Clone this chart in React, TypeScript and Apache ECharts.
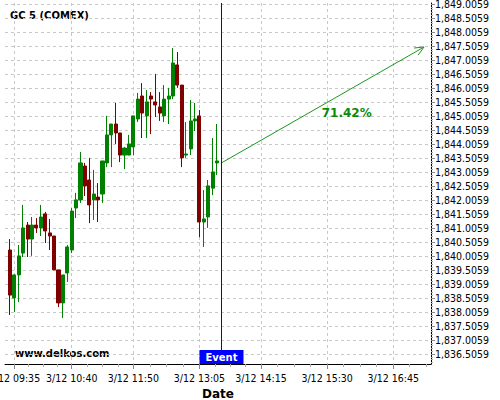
import React, { useEffect, useRef } from "react";
import * as echarts from "echarts";

// ---- data ----
const candleTimes = [
  "09:30", "09:35", "09:40", "09:45", "09:50", "09:55",
  "10:00", "10:05", "10:10", "10:15", "10:20", "10:25", "10:30", "10:35", "10:40", "10:45", "10:50", "10:55",
  "11:00", "11:05", "11:10", "11:15", "11:20", "11:25", "11:30", "11:35", "11:40", "11:45", "11:50", "11:55",
  "12:00", "12:05", "12:10", "12:15", "12:20", "12:25", "12:30", "12:35", "12:40", "12:45", "12:50", "12:55",
  "13:00", "13:05", "13:10", "13:15", "13:20", "13:25",
];
const opens = [
  1840.22, 1838.51, 1839.33, 1840.11, 1841.11, 1840.61, 1841.11, 1841.01, 1841.51, 1840.83, 1840.72, 1839.51,
  1838.33, 1839.40, 1840.22, 1841.72, 1842.01, 1843.22, 1842.72, 1842.01, 1842.11, 1842.22, 1843.33, 1844.33,
  1844.72, 1844.40, 1843.61, 1843.61, 1843.90, 1844.90, 1845.72, 1845.01, 1845.72, 1845.51, 1845.33, 1845.01,
  1845.61, 1845.72, 1846.83, 1846.11, 1843.61, 1843.83, 1844.83, 1845.01, 1841.22, 1841.40, 1842.43, 1843.33,
];
const closes = [
  1838.61, 1839.33, 1840.01, 1841.01, 1840.61, 1841.11, 1841.01, 1841.40, 1840.90, 1840.72, 1839.51, 1838.33,
  1839.33, 1840.33, 1841.61, 1842.01, 1843.33, 1842.51, 1841.83, 1842.22, 1842.01, 1843.40, 1844.33, 1844.72,
  1844.40, 1843.61, 1843.86, 1844.01, 1845.01, 1845.61, 1845.11, 1845.51, 1845.61, 1845.40, 1845.11, 1845.61,
  1845.72, 1846.90, 1846.11, 1843.51, 1843.65, 1844.83, 1844.90, 1841.22, 1841.33, 1842.51, 1843.01, 1843.40,
];
const lows = [
  1837.90, 1838.01, 1838.36, 1839.97, 1839.97, 1840.01, 1840.83, 1840.72, 1840.47, 1840.22, 1839.51, 1838.18,
  1837.79, 1839.08, 1840.11, 1841.36, 1841.90, 1842.15, 1841.18, 1841.29, 1841.22, 1841.90, 1843.18, 1843.18,
  1844.01, 1843.36, 1843.11, 1843.61, 1843.61, 1844.79, 1844.22, 1844.22, 1844.36, 1844.97, 1844.83, 1844.79,
  1844.72, 1845.61, 1846.01, 1843.18, 1843.51, 1843.61, 1844.47, 1840.68, 1840.33, 1841.01, 1842.18, 1842.90,
];
const highs = [
  1840.61, 1839.35, 1840.40, 1841.83, 1841.22, 1841.40, 1841.36, 1841.83, 1841.58, 1841.33, 1840.72, 1839.51,
  1839.33, 1840.40, 1841.72, 1842.26, 1843.72, 1843.33, 1843.51, 1843.08, 1842.61, 1843.40, 1845.01, 1844.72,
  1845.47, 1844.40, 1843.90, 1844.33, 1845.01, 1845.83, 1846.18, 1845.93, 1845.86, 1846.51, 1845.86, 1846.11,
  1846.01, 1847.43, 1847.29, 1846.11, 1844.79, 1845.58, 1845.47, 1845.22, 1842.36, 1842.72, 1844.22, 1844.72,
];
const xTickTimes = ["09:35", "10:40", "11:50", "13:05", "14:15", "15:30", "16:45"];
const yTickValues = [
  1836.5059, 1837.0059, 1837.5059, 1838.0059, 1838.5059, 1839.0059, 1839.5059, 1840.0059, 1840.5059,
  1841.0059, 1841.5059, 1842.0059, 1842.5059, 1843.0059, 1843.5059, 1844.0059, 1844.5059, 1845.0059,
  1845.5059, 1846.0059, 1846.5059, 1847.0059, 1847.5059, 1848.0059, 1848.5059, 1849.0059,
];
const datePrefix = "3/12";
const titleText = "GC 5 (COMEX)";
const siteText = "www.delkos.com";
const eventTime = "13:30";
const eventText = "Event";
const forecastStart = { time: "13:30", price: 1843.33 };
const forecastEnd = { time: "17:20", price: 1847.47 };
const forecastLabel = "71.42%";
const xMinTime = "09:24.3";
const xMaxTime = "17:27.9";
const yMin = 1836.1488;
const yMax = 1849.0417;

// ---- helpers ----
const toMin = (t: string) => {
  const [h, m] = t.split(":");
  return parseInt(h, 10) * 60 + parseFloat(m);
};
const pad = (n: number) => (n < 10 ? "0" + n : "" + n);
const fmtTime = (v: number) => {
  const r = Math.round(v);
  return `${datePrefix} ${pad(Math.floor(r / 60))}:${pad(r % 60)}`;
};
const fmtPrice = (v: number) => {
  const s = v.toFixed(4);
  const [a, b] = s.split(".");
  return a.replace(/\B(?=(\d{3})+(?!\d))/g, ",") + "." + b;
};

const xMajor = xTickTimes.map(toMin);
const xMinor: number[] = [];
for (let i = 0; i < xMajor.length - 1; i++) {
  const step = (xMajor[i + 1] - xMajor[i]) / 4;
  for (let k = 1; k < 4; k++) xMinor.push(xMajor[i] + step * k);
}
{
  const first = xMajor[0];
  const step0 = (xMajor[1] - xMajor[0]) / 4;
  for (let k = 1; k < 4; k++) {
    const v = first - step0 * k;
    if (v > toMin(xMinTime)) xMinor.push(v);
  }
  const last = xMajor[xMajor.length - 1];
  const step = 75 / 4;
  for (let k = 1; k < 4; k++) {
    const v = last + step * k;
    if (v < toMin(xMaxTime)) xMinor.push(v);
  }
}
const yMinor: number[] = [];
for (let i = 0; i < yTickValues.length; i++) {
  for (let k = -4; k <= 4; k++) {
    if (k === 0) continue;
    const v = Math.round((yTickValues[i] + k * 0.1) * 10000) / 10000;
    if (k < 0 && i > 0) continue;
    if (v > yMin && v < yMax) yMinor.push(v);
  }
}

const AXIS_FONT = "DejaVu Sans Condensed, DejaVu Sans";
const GREEN = "#008000";
const RED = "#800000";

export default function App() {
  const ref = useRef<HTMLDivElement>(null);
  useEffect(() => {
    if (!ref.current) return;
    const chart = echarts.init(ref.current, null, { renderer: "svg" });
    const candleData = candleTimes.map((t, i) => [toMin(t), opens[i], closes[i], lows[i], highs[i]]);
    const option: any = {
      animation: false,
      backgroundColor: "#fff",
      grid: { left: 5, right: 69, top: 3, bottom: 36, containLabel: false, outerBoundsMode: "none" },
      xAxis: [
        {
          type: "value",
          min: toMin(xMinTime),
          max: toMin(xMaxTime),
          position: "bottom",
          name: "Date",
          nameLocation: "middle",
          nameGap: 17,
          nameTextStyle: { fontFamily: "DejaVu Sans", fontWeight: "bold", fontSize: 12, color: "#000" },
          axisLine: { show: true, lineStyle: { color: "#000", width: 1 } },
          axisTick: { show: true, length: 5, customValues: xMajor, lineStyle: { color: "#888" } },
          axisLabel: {
            show: true,
            customValues: xMajor,
            formatter: (v: number) => fmtTime(v),
            fontFamily: AXIS_FONT,
            fontSize: 10.5,
            color: "#000",
            margin: 8,
            hideOverlap: false,
            showMinLabel: true,
            showMaxLabel: true,
          },
          splitLine: { show: true, lineStyle: { color: "#c8c8c8", type: [3, 3], width: 1 } },
        },
        {
          type: "value",
          min: toMin(xMinTime),
          max: toMin(xMaxTime),
          position: "bottom",
          axisLine: { show: false },
          axisTick: { show: true, length: 3, customValues: xMinor, lineStyle: { color: "#aaa" } },
          axisLabel: { show: false },
          splitLine: { show: false },
        },
      ],
      yAxis: [
        {
          type: "value",
          min: yMin,
          max: yMax,
          position: "right",
          axisLine: { show: true, lineStyle: { color: "#000", width: 1 } },
          axisTick: { show: true, length: 4, customValues: yTickValues, lineStyle: { color: "#888" } },
          axisLabel: {
            show: true,
            customValues: yTickValues,
            formatter: (v: number) => fmtPrice(v),
            fontFamily: AXIS_FONT,
            fontSize: 10.5,
            color: "#000",
            margin: 4,
          },
          splitLine: { show: true, lineStyle: { color: "#c8c8c8", type: [3, 3], width: 1 } },
        },
        {
          type: "value",
          min: yMin,
          max: yMax,
          position: "right",
          axisLine: { show: false },
          axisTick: { show: true, length: 2, customValues: yMinor, lineStyle: { color: "#aaa" } },
          axisLabel: { show: false },
          splitLine: { show: false },
        },
      ],
      series: [
        {
          type: "candlestick",
          xAxisIndex: 0,
          yAxisIndex: 0,
          data: candleData,
          encode: { x: 0, y: [1, 2, 3, 4] },
          barWidth: 3.6,
          itemStyle: {
            color: GREEN,
            color0: RED,
            borderColor: GREEN,
            borderColor0: RED,
            borderWidth: 1,
          },
        },
        {
          type: "custom",
          xAxisIndex: 0,
          yAxisIndex: 0,
          clip: false,
          z: 5,
          data: [[toMin(forecastStart.time), forecastStart.price, toMin(forecastEnd.time), forecastEnd.price]],
          renderItem: (params: any, api: any) => {
            const p1 = api.coord([api.value(0), api.value(1)]);
            const p2 = api.coord([api.value(2), api.value(3)]);
            const ang = Math.atan2(p2[1] - p1[1], p2[0] - p1[0]);
            const L = 10;
            const a = 0.42;
            const h1 = [p2[0] - L * Math.cos(ang - a), p2[1] - L * Math.sin(ang - a)];
            const h2 = [p2[0] - L * Math.cos(ang + a), p2[1] - L * Math.sin(ang + a)];
            const mx = (p1[0] + p2[0]) / 2;
            const my = (p1[1] + p2[1]) / 2;
            return {
              type: "group",
              children: [
                {
                  type: "line",
                  shape: { x1: p1[0], y1: p1[1], x2: p2[0], y2: p2[1] },
                  style: { stroke: "#1e961e", lineWidth: 1 },
                },
                {
                  type: "polyline",
                  shape: { points: [h1, p2, h2] },
                  style: { stroke: "#1e961e", fill: "none", lineWidth: 1 },
                },
                {
                  type: "text",
                  x: mx + 24,
                  y: my + 8,
                  style: {
                    text: forecastLabel,
                    fill: "#0a8c0a",
                    fontFamily: "DejaVu Sans",
                    fontWeight: "bold",
                    fontSize: 12,
                    align: "center",
                    verticalAlign: "middle",
                  },
                },
              ],
            };
          },
        },
        {
          type: "custom",
          xAxisIndex: 0,
          yAxisIndex: 0,
          clip: false,
          z: 6,
          data: [[toMin(eventTime)]],
          renderItem: (params: any, api: any) => {
            const t = api.value(0);
            const top = api.coord([t, yMax]);
            const bot = api.coord([t, yMin]);
            const x = Math.round(top[0]) + 0.5;
            return {
              type: "group",
              children: [
                {
                  type: "line",
                  shape: { x1: x, y1: top[1], x2: x, y2: bot[1] },
                  style: { stroke: "#0000ff", lineWidth: 1 },
                },
                {
                  type: "rect",
                  shape: { x: x - 22, y: bot[1] - 14, width: 44, height: 14 },
                  style: { fill: "#0000ff" },
                },
                {
                  type: "text",
                  x: x,
                  y: bot[1] - 7,
                  style: {
                    text: eventText,
                    fill: "#fff",
                    fontFamily: "DejaVu Sans",
                    fontWeight: "bold",
                    fontSize: 10,
                    align: "center",
                    verticalAlign: "middle",
                  },
                },
              ],
            };
          },
        },
      ],
      graphic: [
        {
          type: "text",
          left: 10,
          top: 10,
          style: {
            text: titleText,
            fill: "#000",
            fontFamily: "DejaVu Sans",
            fontWeight: "bold",
            fontSize: 10,
          },
        },
        {
          type: "text",
          left: 15,
          top: 348,
          style: {
            text: siteText,
            fill: "#000",
            fontFamily: "DejaVu Sans",
            fontWeight: "bold",
            fontSize: 10,
          },
        },
      ],
    };
    chart.setOption(option);
    return () => chart.dispose();
  }, []);
  return <div ref={ref} style={{ width: 500, height: 400, position: "absolute", left: 0, top: 0 }} />;
}
